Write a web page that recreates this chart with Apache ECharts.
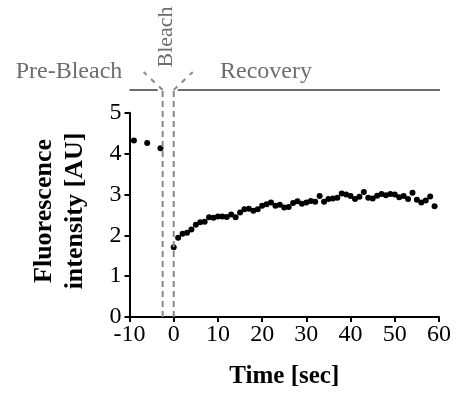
<!DOCTYPE html>
<html>
<head>
<meta charset="utf-8">
<script src="https://cdn.jsdelivr.net/npm/echarts@6/dist/echarts.min.js"></script>
<style>
html,body{margin:0;padding:0;background:#fff;}
#chart{width:456px;height:394px;}
</style>
</head>
<body>
<div id="chart"></div>
<script>
// ---- data ----
var preTimes = [-9, -6, -3];
var preValues = [4.32, 4.26, 4.13];
var postTimes = [0,1,2,3,4,5,6,7,8,9,10,11,12,13,14,15,16,17,18,19,20,21,22,23,24,25,26,27,28,29,30,31,32,33,34,35,36,37,38,39,40,41,42,43,44,45,46,47,48,49,50,51,52,53,54,55,56,57,58,59];
var postValues = [1.71,1.94,2.04,2.06,2.14,2.26,2.32,2.33,2.44,2.43,2.46,2.46,2.45,2.51,2.44,2.56,2.64,2.65,2.60,2.64,
  2.72,2.76,2.80,2.72,2.75,2.68,2.69,2.79,2.83,2.77,2.80,2.84,2.82,2.96,2.82,2.89,2.90,2.92,3.02,3.00,
  2.96,2.89,2.94,3.06,2.92,2.90,2.97,3.01,2.98,3.01,3.00,2.93,2.96,2.89,3.04,2.87,2.80,2.85,2.95,2.71];
var xTicks = [-10, 0, 10, 20, 30, 40, 50, 60];
var yTicks = [0, 1, 2, 3, 4, 5];
var bleachWindow = [-2.5, 0];
var phaseLabels = ['Pre-Bleach', 'Bleach', 'Recovery'];
var xTitle = 'Time [sec]';
var yTitleLines = ['Fluorescence', 'intensity [AU]'];

var serif = "'Liberation Serif','Times New Roman',Times,serif";
var pts = [];
for (var i = 0; i < preTimes.length; i++) pts.push([preTimes[i], preValues[i]]);
for (var j = 0; j < postTimes.length; j++) pts.push([postTimes[j], postValues[j]]);

var chart = echarts.init(document.getElementById('chart'), null, {renderer: 'canvas'});
var axisCommon = {
  axisLine: {show: true, onZero: false, lineStyle: {color: '#000', width: 2}},
  axisTick: {show: true, length: 5, lineStyle: {color: '#000', width: 2}},
  splitLine: {show: false},
  axisLabel: {color: '#000', fontFamily: serif, fontSize: 24}
};
chart.setOption({
  animation: false,
  grid: {left: 129.5, right: 17, top: 112.7, bottom: 73.5, containLabel: false},
  xAxis: Object.assign({}, axisCommon, {
    type: 'value', min: xTicks[0], max: xTicks[xTicks.length - 1], interval: xTicks[1] - xTicks[0],
    axisLabel: Object.assign({}, axisCommon.axisLabel, {margin: 6}),
    name: xTitle, nameLocation: 'middle', nameGap: 47,
    nameTextStyle: {color: '#000', fontFamily: serif, fontSize: 25, fontWeight: 'bold'}
  }),
  yAxis: Object.assign({}, axisCommon, {
    type: 'value', min: yTicks[0], max: yTicks[yTicks.length - 1], interval: yTicks[1] - yTicks[0],
    axisLabel: Object.assign({}, axisCommon.axisLabel, {margin: 8})
  }),
  series: [{
    type: 'scatter', data: pts, symbol: 'circle', symbolSize: 6,
    itemStyle: {color: '#000', opacity: 1}, silent: true
  }]
});

function drawAnnotations() {
  var x0 = chart.convertToPixel({xAxisIndex: 0}, bleachWindow[0]);
  var x1 = chart.convertToPixel({xAxisIndex: 0}, bleachWindow[1]);
  var xl = chart.convertToPixel({xAxisIndex: 0}, xTicks[0]);
  var xr = chart.convertToPixel({xAxisIndex: 0}, xTicks[xTicks.length - 1]);
  var yb = chart.convertToPixel({yAxisIndex: 0}, 0);
  var lineY = 90;
  var gray = '#6d6d6d';
  var dashStyle = {stroke: '#888', lineWidth: 2, lineDash: [6, 4], fill: null};
  var els = [
    {type: 'line', shape: {x1: x0, y1: yb, x2: x0, y2: lineY}, style: dashStyle, z: 5},
    {type: 'line', shape: {x1: x1, y1: yb, x2: x1, y2: lineY}, style: dashStyle, z: 5},
    {type: 'line', shape: {x1: x0, y1: lineY, x2: x0 - 19, y2: lineY - 18}, style: {stroke: '#888', lineWidth: 2, lineDash: [5, 6]}, z: 5},
    {type: 'line', shape: {x1: x1, y1: lineY, x2: x1 + 19, y2: lineY - 18}, style: {stroke: '#888', lineWidth: 2, lineDash: [5, 6]}, z: 5},
    {type: 'line', shape: {x1: xl, y1: lineY, x2: x0 - 5, y2: lineY}, style: {stroke: gray, lineWidth: 2}, z: 5},
    {type: 'line', shape: {x1: x1 + 4, y1: lineY, x2: xr + 1, y2: lineY}, style: {stroke: gray, lineWidth: 2}, z: 5},
    {type: 'text', x: 69, y: 72, style: {text: phaseLabels[0], fill: gray, font: '24px ' + serif, textAlign: 'center', textVerticalAlign: 'middle'}},
    {type: 'text', x: 166, y: 37, rotation: Math.PI / 2, style: {text: phaseLabels[1], fill: gray, font: '22px ' + serif, textAlign: 'center', textVerticalAlign: 'middle'}},
    {type: 'text', x: 266, y: 72, style: {text: phaseLabels[2], fill: gray, font: '24px ' + serif, textAlign: 'center', textVerticalAlign: 'middle'}},
    {type: 'text', x: 44, y: 211, rotation: Math.PI / 2, style: {text: yTitleLines[0], fill: '#000', font: 'bold 26px ' + serif, textAlign: 'center', textVerticalAlign: 'middle'}},
    {type: 'text', x: 75, y: 211, rotation: Math.PI / 2, style: {text: yTitleLines[1], fill: '#000', font: 'bold 26px ' + serif, textAlign: 'center', textVerticalAlign: 'middle'}}
  ];
  chart.setOption({graphic: {elements: els}});
}
drawAnnotations();
</script>
</body>
</html>
